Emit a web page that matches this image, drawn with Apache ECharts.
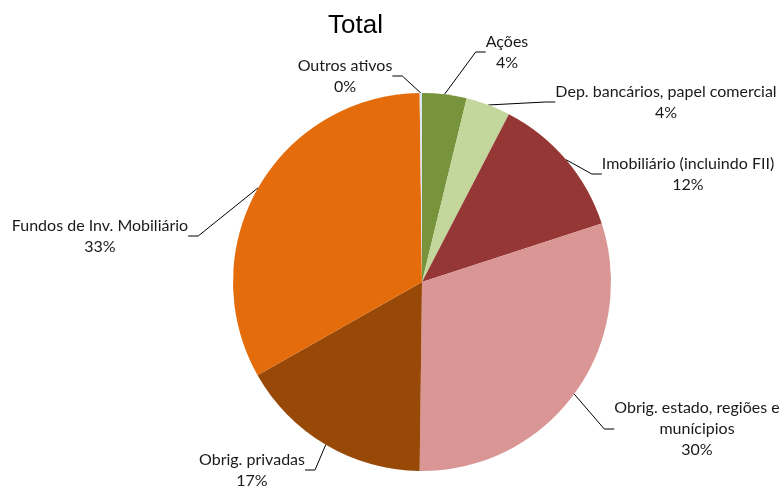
<!DOCTYPE html>
<html>
<head>
<meta charset="utf-8">
<script src="https://cdn.jsdelivr.net/npm/echarts@6/dist/echarts.min.js"></script>
<style>html,body{margin:0;padding:0;background:#fff}#c{width:783px;height:487px}</style>
</head>
<body>
<div id="c"></div>
<script>
const categories = ['Ações', 'Dep. bancários, papel comercial', 'Imobiliário (incluindo FII)', 'Obrig. estado, regiões e\nmunícipios', 'Obrig. privadas', 'Fundos de Inv. Mobiliário', 'Outros ativos'];
const values = [3.8, 3.8, 12.4, 30.2, 16.6, 33.0, 0.2];
const colors = ['#77933C', '#C3D69B', '#953735', '#D99694', '#984807', '#E46C0A', '#DCE6F2'];
const labelPos = [[507, 52], [666, 102], [688, 174], [697, 429], [252, 470], [100, 236], [345, 76]];

const chart = echarts.init(document.getElementById('c'));
chart.setOption({
  animation: false,
  title: { text: 'Total', left: 323, top: 8, textStyle: { fontFamily: 'Liberation Sans', fontSize: 26, fontWeight: 'normal', color: '#000' } },
  series: [{
    type: 'pie',
    center: [422, 282],
    radius: 189,
    startAngle: 90,
    clockwise: true,
    data: categories.map((n, i) => ({ name: n, value: values[i], itemStyle: { color: colors[i] } })),
    itemStyle: { borderWidth: 0 },
    label: {
      show: true,
      formatter: '{b}\n{d}%',
      fontFamily: 'Lato',
      fontSize: 16,
      lineHeight: 21,
      color: '#1a1a1a',
      align: 'center',
      overflow: 'none'
    },
    percentPrecision: 0,
    labelLine: { show: true, length: 10, length2: 10, lineStyle: { color: '#000', width: 1 } },
    labelLayout: function (p) {
      const pos = labelPos[p.dataIndex];
      return { x: pos[0], y: pos[1], align: 'center', verticalAlign: 'middle' };
    }
  }]
});
</script>
</body>
</html>
